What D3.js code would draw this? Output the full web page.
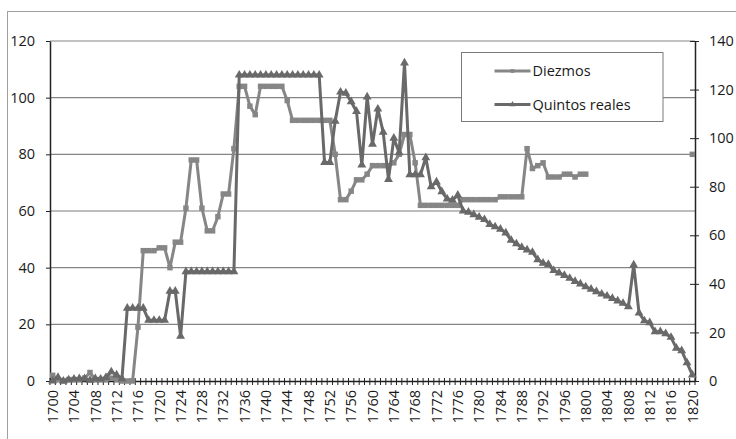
<!DOCTYPE html>
<html>
<head>
<meta charset="utf-8">
<script src="https://cdn.jsdelivr.net/npm/d3@7"></script>
<style>
  body { margin: 0; background: #fff; }
  svg { display: block; font-family: "Open Sans", sans-serif; }
</style>
</head>
<body>
<div id="chart"></div>
<script>
/** categories */
const years = d3.range(1700, 1821);
const yearLabels = [
  1700, 1704, 1708, 1712, 1716, 1720, 1724, 1728, 1732, 1736, 1740, 1744,
  1748, 1752, 1756, 1760, 1764, 1768, 1772, 1776, 1780, 1784, 1788, 1792,
  1796, 1800, 1804, 1808, 1812, 1816, 1820,
];

/** left axis series */
const diezmos = [
  2, 0.5, 0, 0.5, 0.5, 0.5, 1, 3, 0.5, 0.5, // 1700
  0.5, 1, 0.5, 0, 0, 0, 19, 46, 46, 46, // 1710
  47, 47, 40, 49, 49, 61, 78, 78, 61, 53, // 1720
  53, 58, 66, 66, 82, 104, 104, 97, 94, 104, // 1730
  104, 104, 104, 104, 99, 92, 92, 92, 92, 92, // 1740
  92, 92, 92, 80, 64, 64, 67, 71, 71, 73, // 1750
  76, 76, 76, 76, 77, 80, 87, 87, 77, 62, // 1760
  62, 62, 62, 62, 62, 62, 62, 64, 64, 64, // 1770
  64, 64, 64, 64, 65, 65, 65, 65, 65, 82, // 1780
  75, 76, 77, 72, 72, 72, 73, 73, 72, 73, // 1790
  73, null, null, null, null, null, null, null, null, null, // 1800
  null, null, null, null, null, null, null, null, null, null, // 1810
  80, // 1820
];

/** right axis series */
const quintos = [
  0, 1.5, 0, 0.5, 0.8, 1, 1, 0.3, 1, 0.8, // 1700
  1.5, 3.8, 2.5, 1, 30, 30, 30, 30, 25, 25, // 1710
  25, 25, 37, 37, 18.5, 45, 45, 45, 45, 45, // 1720
  45, 45, 45, 45, 45, 126, 126, 126, 126, 126, // 1730
  126, 126, 126, 126, 126, 126, 126, 126, 126, 126, // 1740
  126, 90, 90, 107, 119, 118.5, 115, 111, 89, 117, // 1750
  97.5, 112, 102.5, 83, 100, 94, 131, 85, 85, 85, // 1760
  92, 80, 82, 78, 75, 74.5, 76.5, 70, 69.5, 68.5, // 1770
  67.5, 66.5, 64.5, 63.5, 62.5, 61, 58, 56.5, 55, 54, // 1780
  53, 50, 48.5, 48, 45.5, 44.5, 43.5, 42.3, 41, 40, // 1790
  38.8, 37.8, 36.8, 35.8, 35, 34, 33, 32, 30.6, 47.8, // 1800
  28, 24.8, 24, 20.3, 20.3, 19.5, 18, 13.5, 12.5, 7.5, // 1810
  2.5, // 1820
];

const leftTicks = [0, 20, 40, 60, 80, 100, 120];
const rightTicks = [0, 20, 40, 60, 80, 100, 120, 140];

const series = [
  { name: "Diezmos", values: diezmos, axis: "left", color: "#868686", marker: "square" },
  { name: "Quintos reales", values: quintos, axis: "right", color: "#696969", marker: "triangle" },
];

/** make chart */
const width = 736;
const height = 439;
const plot = { left: 50, right: 695, top: 41, bottom: 381 };

const svg = d3
  .select("#chart")
  .append("svg")
  .attr("width", width)
  .attr("height", height);

/** outer frame */
svg
  .append("rect")
  .attr("x", 7.5)
  .attr("y", 11.5)
  .attr("width", width + 20)
  .attr("height", height + 20)
  .attr("fill", "none")
  .attr("stroke", "#a0a0a0");

/** scales */
const xScale = d3.scaleBand().domain(years).range([plot.left, plot.right]);
const xMid = (year) => xScale(year) + xScale.bandwidth() / 2;
const yLeft = d3.scaleLinear().domain([0, 120]).range([plot.bottom, plot.top]);
const yRight = d3.scaleLinear().domain([0, 140]).range([plot.bottom, plot.top]);

/** gridlines */
svg
  .append("g")
  .selectAll("line")
  .data(leftTicks.filter((d) => d > 0))
  .join("line")
  .attr("x1", plot.left)
  .attr("x2", plot.right)
  .attr("y1", (d) => yLeft(d))
  .attr("y2", (d) => yLeft(d))
  .attr("stroke", (d) => (d === 60 ? "#bdbdbd" : "#858585"))
  .attr("stroke-width", (d) => (d === 60 ? 1.8 : 1.2));

/** axes */
const styleAxis = (g) => {
  g.select(".domain").attr("stroke", "#222").attr("stroke-width", 1.5);
  g.selectAll(".tick line").attr("stroke", "#222");
  g.selectAll("text")
    .attr("fill", "#1a1a1a")
    .style("font-size", "14.5px")
    .style("font-family", '"Open Sans", sans-serif');
};

svg
  .append("g")
  .attr("transform", `translate(${plot.left}, 0)`)
  .call(d3.axisLeft(yLeft).tickValues(leftTicks).tickSize(4).tickSizeOuter(0).tickPadding(11))
  .call(styleAxis);

svg
  .append("g")
  .attr("transform", `translate(${plot.right}, 0)`)
  .call(d3.axisRight(yRight).tickValues(rightTicks).tickSize(4).tickSizeOuter(0).tickPadding(10))
  .call(styleAxis)
  .call((g) => g.selectAll(".tick line").attr("x1", -5));

const xAxis = svg
  .append("g")
  .attr("transform", `translate(0, ${plot.bottom})`)
  .call(d3.axisBottom(xScale).tickValues(yearLabels).tickSize(0).tickSizeOuter(0))
  .call(styleAxis);
xAxis
  .selectAll("text")
  .attr("transform", "rotate(-90)")
  .attr("x", -9)
  .attr("y", 0)
  .attr("dy", "0.36em")
  .style("text-anchor", "end");

/** category boundary ticks */
svg
  .append("g")
  .selectAll("line")
  .data([...years.map((d) => xScale(d)), plot.right])
  .join("line")
  .attr("x1", (d) => d)
  .attr("x2", (d) => d)
  .attr("y1", plot.bottom - 3)
  .attr("y2", plot.bottom + 4)
  .attr("stroke", "#222")
  .attr("stroke-width", 1);

/** draw each series */
const squareSymbol = d3.symbol(d3.symbolSquare, 30);
const triangleSymbol = d3.symbol(d3.symbolTriangle, 34);

for (const { values, axis, color, marker } of series) {
  const yScale = axis === "left" ? yLeft : yRight;
  const points = years.map((year, i) => ({ year, value: values[i] }));
  const line = d3
    .line()
    .defined((d) => d.value !== null)
    .x((d) => xMid(d.year))
    .y((d) => yScale(d.value));

  svg
    .append("path")
    .attr("d", line(points))
    .attr("fill", "none")
    .attr("stroke", color)
    .attr("stroke-width", 3)
    .attr("stroke-linejoin", "round");

  svg
    .append("g")
    .selectAll("path")
    .data(points.filter((d) => d.value !== null))
    .join("path")
    .attr("transform", (d) => `translate(${xMid(d.year)}, ${yScale(d.value)})`)
    .attr("d", marker === "square" ? squareSymbol : triangleSymbol)
    .attr("fill", color);
}

/** legend */
const legend = svg.append("g").attr("transform", "translate(461.5, 52.5)");
legend
  .append("rect")
  .attr("width", 201.5)
  .attr("height", 69)
  .attr("fill", "#fff")
  .attr("stroke", "#7a7a7a");

for (const [index, { name, color, marker }] of series.entries()) {
  const y = 18.5 + index * 33.5;
  legend
    .append("line")
    .attr("x1", 33)
    .attr("x2", 69)
    .attr("y1", y)
    .attr("y2", y)
    .attr("stroke", color)
    .attr("stroke-width", 3);
  legend
    .append("path")
    .attr("transform", `translate(51, ${y})`)
    .attr("d", marker === "square" ? d3.symbol(d3.symbolSquare, 14) : d3.symbol(d3.symbolTriangle, 16))
    .attr("fill", color);
  legend
    .append("text")
    .attr("x", 71)
    .attr("y", y)
    .attr("dy", "0.35em")
    .attr("fill", "#1a1a1a")
    .style("font-size", "14.5px")
    .text(name);
}
</script>
</body>
</html>
